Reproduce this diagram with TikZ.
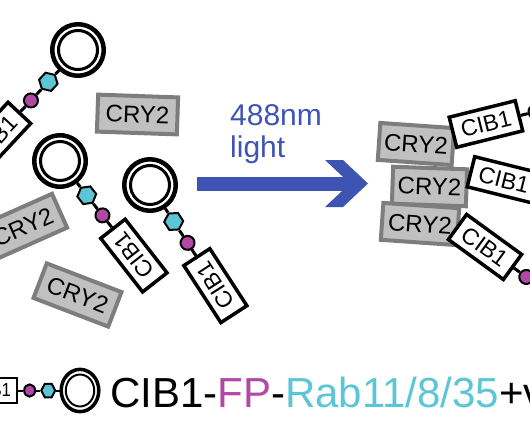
\documentclass[tikz,border=0pt]{standalone}
\usepackage{fontspec}
\setmainfont{Liberation Sans}
\usetikzlibrary{shapes.geometric}

\definecolor{fpmagenta}{RGB}{178,72,165}
\definecolor{rabcyan}{RGB}{92,198,214}
\definecolor{cryfill}{RGB}{192,192,192}
\definecolor{cryedge}{RGB}{125,125,125}
\definecolor{lightblue}{RGB}{62,84,178}

\begin{document}
\begin{tikzpicture}[
  x=1pt, y=1pt, transform shape,
  cibbox/.style={draw, line width=3.5pt, fill=white, minimum width=68pt, minimum height=31pt, inner sep=0pt, font=\fontsize{23}{25}\selectfont},
  crybox/.style={draw=cryedge, line width=4pt, fill=cryfill, minimum width=80pt, minimum height=37pt, inner sep=0pt, font=\fontsize{24}{26}\selectfont},
  fpdot/.style={draw, circle, line width=2pt, fill=fpmagenta, minimum size=14pt, inner sep=0pt},
  rabhex/.style={draw, regular polygon, regular polygon sides=6, line width=2pt, fill=rabcyan, minimum size=19pt, inner sep=0pt},
  vesring/.style={draw, circle, line width=4.5pt, fill=white, minimum size=51.5pt, inner sep=0pt},
  vesinner/.style={line width=3pt},
  link/.style={line width=3pt},
  lighttext/.style={text=lightblue, font=\fontsize{30}{32}\selectfont, inner sep=0pt},
  construct/.pic={
    \node[cibbox] (-cib) at (-120,0) {CIB1};
    \node[fpdot] (-fp) at (-69,0) {};
    \node[rabhex] (-rab) at (-43.5,0) {};
    \node[vesring] (-ves) at (0,0) {};
    \draw[link] (-cib) -- (-fp);
    \draw[link] (-fp) -- (-rab);
    \draw[link] (-rab) -- (-ves);
    \draw[vesinner] (-ves.center) circle (19.5);
  }
]
\fill[white] (0,0) rectangle (530,-442);
\useasboundingbox (0,0) rectangle (530,-442);

% Left part: free CIB1 constructs and CRY2
\pic[rotate=47] (molA) at (78,-50) {construct};
\pic[rotate=128] (molB) at (60,-161) {construct};
\pic[rotate=123] (molC) at (150,-185) {construct};

\node[crybox, rotate=-2] (cryA) at (137.5,-114.5) {CRY2};
\node[crybox, rotate=24] (cryB) at (23,-227) {CRY2};
\node[crybox, rotate=-21] (cryC) at (77.5,-295) {CRY2};

% Light arrow
\fill[lightblue] (197,-177) rectangle (350,-190.5);
\fill[lightblue] (325,-160) -- (343,-160) -- (368,-183.5) -- (343,-207) -- (325,-207) -- (350,-183.5) -- cycle;
\node[lighttext, anchor=base west] (nm) at (230,-125) {488nm};
\node[lighttext, anchor=base west] (lightword) at ([yshift=-32pt]nm.base west) {light};

% Right part: CRY2 stacked, CIB1 bound
\node[crybox, minimum width=74pt, rotate=-4] (cryD) at (416,-144) {CRY2};
\node[crybox, minimum width=74pt, rotate=-2] (cryE) at (429.5,-186.5) {CRY2};
\node[crybox, minimum width=76pt, rotate=-4] (cryF) at (420,-224) {CRY2};

\pic[rotate=14] (molD) at (602.4,-95.0) {construct};
\pic[rotate=-14] (molE) at (620.4,-209) {construct};
\pic[rotate=-36] (molF) at (582.1,-317.5) {construct};

% Legend
\pic[xscale=0.73, yscale=0.82, vesring/.append style={line width=3.5pt},
  vesinner/.append style={line width=2pt}, cibbox/.append style={line width=2.5pt},
  fpdot/.append style={minimum size=15pt}, rabhex/.append style={minimum size=19pt},
  link/.append style={line width=2pt}] (legmol) at (80,-390.5) {construct};
\node[anchor=base west, inner sep=0pt, font=\fontsize{42}{45}\selectfont] (legtext) at (110,-407) {CIB1-\textcolor{fpmagenta}{FP}-\textcolor{rabcyan}{Rab11/8/35}+v};

\end{tikzpicture}
\end{document}
